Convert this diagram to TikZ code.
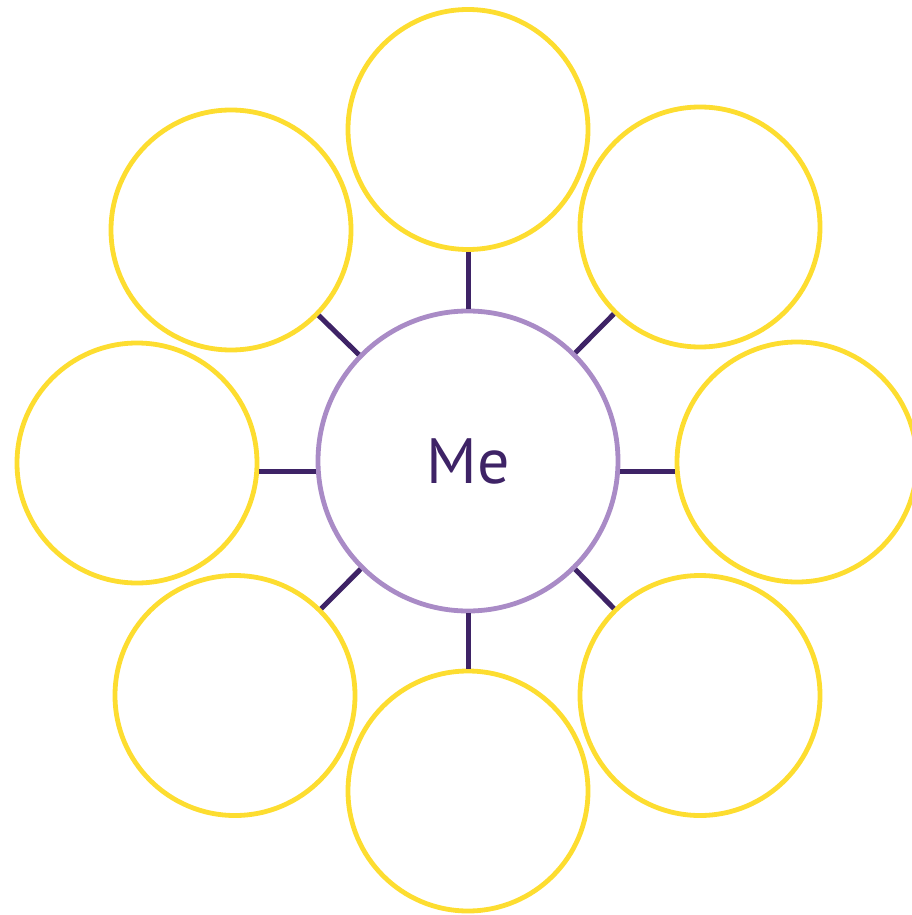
\documentclass[tikz,border=0pt]{standalone}
\usepackage{fontspec}
\setmainfont{PT Sans}
\definecolor{petal}{RGB}{253,221,48}
\definecolor{corering}{RGB}{169,139,198}
\definecolor{darkpurple}{RGB}{62,35,102}
\tikzset{
  petalnode/.style={circle, draw=petal, line width=4.8pt, minimum size=240pt, inner sep=0pt},
  corenode/.style={circle, draw=corering, line width=4.8pt, minimum size=300pt, inner sep=0pt,
    text=darkpurple, font=\fontsize{64}{64}\selectfont},
  link/.style={draw=darkpurple, line width=5pt}
}
\begin{document}
\begin{tikzpicture}[x=1pt, y=-1pt]
\useasboundingbox (0,0) rectangle (911,915);
\node[corenode] (me) at (468,461) {\raisebox{-2pt}{Me}};
\node[petalnode] (top) at (468,129.5) {};
\node[petalnode] (tr) at (700,227) {};
\node[petalnode] (right) at (797,462) {};
\node[petalnode] (br) at (700,695.5) {};
\node[petalnode] (bottom) at (468,791) {};
\node[petalnode] (bl) at (235,695.5) {};
\node[petalnode] (left) at (137,463) {};
\node[petalnode] (tl) at (231,230) {};
\draw[link] (me) -- (top);
\draw[link] (me) -- (bottom);
\draw[link] (me) -- (tl);
\draw[link] (me) -- (tr);
\draw[link] (me) -- (bl);
\draw[link] (me) -- (br);
\draw[link] (me.184.5) -- (me.184.5 -| left.east);
\draw[link] (me.-4.5) -- (me.-4.5 -| right.west);
\end{tikzpicture}
\end{document}
